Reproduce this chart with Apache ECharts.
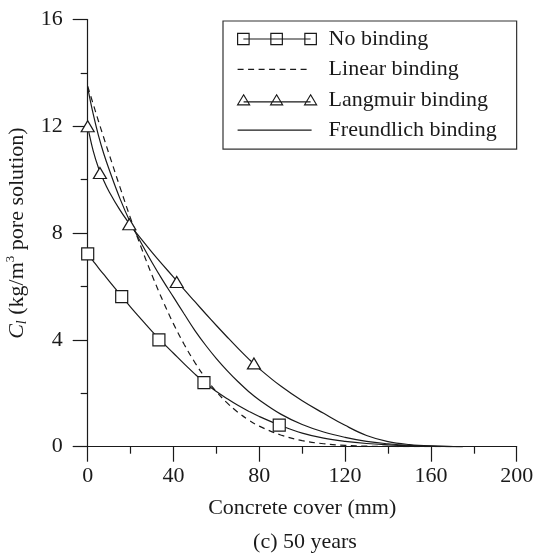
<!DOCTYPE html>
<html>
<head>
<meta charset="utf-8">
<script src="https://cdn.jsdelivr.net/npm/echarts@6/dist/echarts.min.js"></script>
<style>
html,body{margin:0;padding:0;background:#fff;}
#chart{width:536px;height:556px;}
</style>
</head>
<body>
<div id="chart"></div>
<script>
// ---- data ----
const xTicks = [0, 40, 80, 120, 160, 200];
const yTicks = [0, 4, 8, 12, 16];

// curve sample positions (concrete cover, mm)
const cover = [0, 2.5, 5, 7.5, 10, 15, 20, 25, 30, 35, 40, 45, 50, 55, 60, 65, 70, 75, 80, 90, 100, 110, 120, 130, 140, 150, 160, 175];
const noBindC     = [7.22, 6.96, 6.7, 6.45, 6.2, 5.71, 5.23, 4.77, 4.32, 3.9, 3.5, 3.1, 2.72, 2.37, 2.07, 1.8, 1.55, 1.33, 1.13, 0.79, 0.51, 0.32, 0.2, 0.12, 0.07, 0.035, 0.012, 0];
const linearC     = [13.5, 12.85, 12.2, 11.57, 10.95, 9.73, 8.55, 7.45, 6.42, 5.47, 4.6, 3.83, 3.15, 2.56, 2.06, 1.64, 1.29, 1.0, 0.77, 0.44, 0.23, 0.11, 0.05, 0.02, 0.01, 0, 0, 0];
const langmuirC   = [12.0, 11.1, 10.45, 9.96, 9.55, 8.87, 8.29, 7.77, 7.28, 6.81, 6.35, 5.88, 5.43, 4.98, 4.54, 4.11, 3.69, 3.29, 2.92, 2.27, 1.72, 1.25, 0.8, 0.42, 0.19, 0.08, 0.03, 0];
const freundlichC = [13.45, 12.48, 11.66, 10.97, 10.38, 9.3, 8.38, 7.62, 6.9, 6.23, 5.6, 4.97, 4.35, 3.8, 3.3, 2.85, 2.44, 2.07, 1.75, 1.22, 0.83, 0.55, 0.35, 0.2, 0.11, 0.05, 0.02, 0];

// marker points
const noBindMarkX = [0, 15.85, 33.2, 54.2, 89.3];
const noBindMarkY = [7.22, 5.62, 4.0, 2.4, 0.81];
const langMarkX   = [0, 5.7, 19.4, 41.5, 77.5];
const langMarkY   = [12.0, 10.25, 8.33, 6.17, 3.12];

const seriesNames = ['No binding', 'Linear binding', 'Langmuir binding', 'Freundlich binding'];
// ---------------------------------------

const pairs = (xs, ys) => xs.map((x, i) => [x, ys[i]]);
const INK = '#1a1a1a';
const FONT = 'Liberation Serif';

const iconNo = 'path://M0 0M86 12M5.75 6L73 6M0 0.4L11.5 0.4L11.5 11.6L0 11.6ZM33.25 0.4L44.75 0.4L44.75 11.6L33.25 11.6ZM67.25 0.4L78.75 0.4L78.75 11.6L67.25 11.6Z';
const iconLin = 'path://M0 0M86 12M0 6L6 6M10.5 6L16.5 6M21 6L27 6M31.5 6L37.5 6M42 6L48 6M52.5 6L58.5 6M63 6L69 6';
const iconLang = 'path://M0 0M86 12M6 8L73 8M6 1L12 11L0 11ZM39 1L45 11L33 11ZM73 1L79 11L67 11Z';
const iconFr = 'path://M0 0M86 12M0 6L74 6';

const chart = echarts.init(document.getElementById('chart'), null, {renderer: 'canvas'});

const axisCommon = {
  axisLine: {show: true, onZero: false, lineStyle: {color: INK, width: 1.2}},
  axisTick: {show: true, inside: false, length: 15, lineStyle: {color: INK, width: 1.2}},
  minorTick: {show: true, splitNumber: 2, length: 7, lineStyle: {color: INK, width: 1.2}},
  splitLine: {show: false},
  minorSplitLine: {show: false}
};

const lineCommon = {type: 'line', symbol: 'none', smooth: 0.4, z: 2, itemStyle: {color: INK}};

chart.setOption({
  animation: false,
  backgroundColor: '#fff',
  title: {
    text: '(c) 50 years',
    left: 300, top: 526, textAlign: 'center',
    textStyle: {fontFamily: FONT, fontSize: 22, fontWeight: 'normal', color: INK}
  },
  grid: {left: 87.7, right: 19.3, top: 19.5, bottom: 109.3, containLabel: false, outerBoundsMode: 'none'},
  legend: {
    orient: 'vertical',
    left: 223, top: 21,
    padding: [7, 20, 8, 14],
    itemGap: 8.4,
    itemWidth: 86, itemHeight: 12,
    symbolKeepAspect: false,
    selectedMode: false,
    borderColor: '#333', borderWidth: 1.2,
    textStyle: {fontFamily: FONT, fontSize: 22, color: INK},
    itemStyle: {color: 'rgba(0,0,0,0)', borderColor: INK, borderWidth: 1.2},
    data: [
      {name: seriesNames[0], icon: iconNo},
      {name: seriesNames[1], icon: iconLin},
      {name: seriesNames[2], icon: iconLang},
      {name: seriesNames[3], icon: iconFr}
    ]
  },
  xAxis: Object.assign({
    type: 'value', min: xTicks[0], max: xTicks[xTicks.length - 1], interval: xTicks[1] - xTicks[0],
    axisLabel: {fontFamily: FONT, fontSize: 22, color: INK, margin: 19},
    name: 'Concrete cover (mm)', nameLocation: 'middle', nameGap: 51,
    nameTextStyle: {fontFamily: FONT, fontSize: 22, color: INK}
  }, axisCommon),
  yAxis: Object.assign({
    type: 'value', min: yTicks[0], max: yTicks[yTicks.length - 1], interval: yTicks[1] - yTicks[0],
    axisLabel: {fontFamily: FONT, fontSize: 22, color: INK, margin: 25},
    name: '{i|C}{s|l}{n| (kg/m}{p|3}{n| pore solution)}',
    nameLocation: 'middle', nameGap: 55,
    nameTextStyle: {
      fontFamily: FONT, fontSize: 22, color: INK,
      rich: {
        i: {fontFamily: FONT, fontSize: 22, fontStyle: 'italic', color: INK, lineHeight: 26},
        s: {fontFamily: FONT, fontSize: 14, fontStyle: 'italic', color: INK, lineHeight: 26, verticalAlign: 'bottom'},
        n: {fontFamily: FONT, fontSize: 22, color: INK, lineHeight: 26},
        p: {fontFamily: FONT, fontSize: 13, color: INK, lineHeight: 26, verticalAlign: 'top'}
      }
    }
  }, axisCommon),
  series: [
    Object.assign({}, lineCommon, {name: seriesNames[0], data: pairs(cover, noBindC),
      lineStyle: {color: INK, width: 1.2}}),
    {type: 'scatter', name: seriesNames[0], data: pairs(noBindMarkX, noBindMarkY), symbol: 'rect', symbolSize: 12,
     itemStyle: {color: '#fff', borderColor: INK, borderWidth: 1.2, opacity: 1}, z: 4},
    Object.assign({}, lineCommon, {name: seriesNames[1], data: pairs(cover, linearC),
      lineStyle: {color: INK, width: 1.2, type: [6, 4.5]}}),
    Object.assign({}, lineCommon, {name: seriesNames[2], data: pairs(cover, langmuirC),
      lineStyle: {color: INK, width: 1.2}}),
    {type: 'scatter', name: seriesNames[2], data: pairs(langMarkX, langMarkY), symbol: 'triangle', symbolSize: [13, 11],
     itemStyle: {color: '#fff', borderColor: INK, borderWidth: 1.2, opacity: 1}, z: 4},
    Object.assign({}, lineCommon, {name: seriesNames[3], data: pairs(cover, freundlichC),
      lineStyle: {color: INK, width: 1.2}})
  ]
});
</script>
</body>
</html>
